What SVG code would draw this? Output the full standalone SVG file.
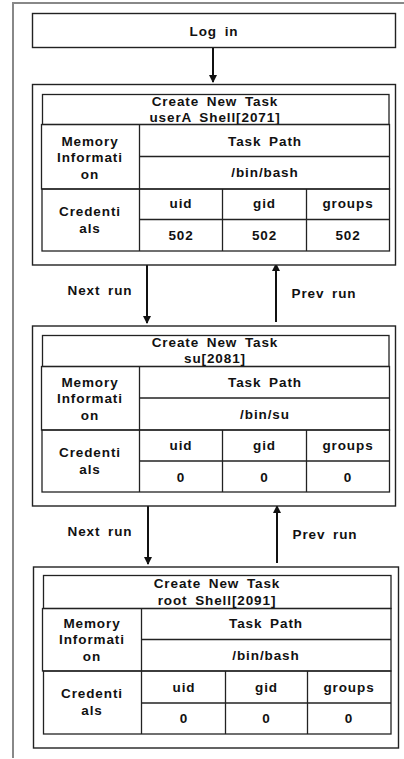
<svg xmlns="http://www.w3.org/2000/svg" width="404" height="759" viewBox="0 0 404 759">
<style>
text{font-family:"Liberation Sans",Arial,sans-serif;font-weight:bold;font-size:13.5px;letter-spacing:0.9px;word-spacing:3px;fill:#111;text-anchor:middle;dominant-baseline:central}
.box{fill:#fff;stroke:#222;stroke-width:1.4}
.cell{fill:none;stroke:#222;stroke-width:1.3}
.line{stroke:#222;stroke-width:1.3}
.arrow{stroke:#111;stroke-width:2;fill:none}
.frame{stroke:#888;stroke-width:2;fill:none}
</style>
<defs>
<marker id="ah" viewBox="0 0 8 8" refX="7" refY="4" markerWidth="8" markerHeight="8" markerUnits="userSpaceOnUse" orient="auto">
<path d="M0,0 L8,4 L0,8 Z" fill="#111"/>
</marker>
</defs>
<path class="frame" d="M13,758 V3 H404"/>
<g id="login">
<rect class="box" x="32.5" y="13.5" width="363" height="34"/>
<text x="214" y="31">Log in</text>
</g>
<g id="connectors">
<line class="arrow" x1="213" y1="48" x2="213" y2="82" marker-end="url(#ah)"/>
<line class="arrow" x1="147" y1="265" x2="147" y2="323" marker-end="url(#ah)"/>
<line class="arrow" x1="276" y1="322" x2="276" y2="264" marker-end="url(#ah)"/>
<line class="arrow" x1="148" y1="506" x2="148" y2="564" marker-end="url(#ah)"/>
<line class="arrow" x1="277" y1="563" x2="277" y2="506" marker-end="url(#ah)"/>
<text x="100" y="290">Next run</text>
<text x="324" y="293">Prev run</text>
<text x="100" y="531">Next run</text>
<text x="325" y="534">Prev run</text>
</g>
<g id="task1">
<rect class="box" x="32.5" y="84.5" width="363" height="180.5"/>
<rect class="cell" x="42.5" y="94.5" width="346.5" height="30"/>
<text x="215" y="101.5">Create New Task</text>
<text x="215" y="117.5">userA Shell[2071]</text>
<rect class="cell" x="41.5" y="124.5" width="348" height="64.5"/>
<line class="line" x1="139.5" y1="124.5" x2="139.5" y2="251"/>
<line class="line" x1="139.5" y1="156.5" x2="389.5" y2="156.5"/>
<rect class="cell" x="42" y="189" width="347.5" height="62"/>
<line class="line" x1="222.5" y1="189" x2="222.5" y2="251"/>
<line class="line" x1="306.5" y1="189" x2="306.5" y2="251"/>
<line class="line" x1="139.5" y1="219.5" x2="389.5" y2="219.5"/>
<text x="90" y="141.5">Memory</text>
<text x="90" y="157.7">Informati</text>
<text x="90" y="174">on</text>
<text x="265" y="141">Task Path</text>
<text x="265" y="172">/bin/bash</text>
<text x="90" y="211.5">Credenti</text>
<text x="90" y="228">als</text>
<text x="181" y="203.5">uid</text>
<text x="264.5" y="203.5">gid</text>
<text x="348" y="203.5">groups</text>
<text x="181" y="235.5">502</text>
<text x="264.5" y="235.5">502</text>
<text x="348" y="235.5">502</text>
</g>
<g id="task2">
<rect class="box" x="32.5" y="326" width="363" height="180"/>
<rect class="cell" x="42.5" y="335.5" width="346.5" height="31"/>
<text x="215" y="342">Create New Task</text>
<text x="215" y="358.5">su[2081]</text>
<rect class="cell" x="41.5" y="366.5" width="348" height="63.5"/>
<line class="line" x1="139.5" y1="366.5" x2="139.5" y2="492"/>
<line class="line" x1="139.5" y1="398" x2="389.5" y2="398"/>
<rect class="cell" x="42" y="430" width="347.5" height="62"/>
<line class="line" x1="222.5" y1="430" x2="222.5" y2="492"/>
<line class="line" x1="306.5" y1="430" x2="306.5" y2="492"/>
<line class="line" x1="139.5" y1="461" x2="389.5" y2="461"/>
<text x="90" y="382">Memory</text>
<text x="90" y="398.3">Informati</text>
<text x="90" y="415">on</text>
<text x="265" y="382">Task Path</text>
<text x="265" y="414">/bin/su</text>
<text x="90" y="452">Credenti</text>
<text x="90" y="469">als</text>
<text x="181" y="445.5">uid</text>
<text x="264.5" y="445.5">gid</text>
<text x="348" y="445.5">groups</text>
<text x="181" y="477">0</text>
<text x="264.5" y="477">0</text>
<text x="348" y="477">0</text>
</g>
<g id="task3">
<rect class="box" x="33.5" y="567" width="365" height="181"/>
<rect class="cell" x="43.5" y="575.5" width="347.5" height="33"/>
<text x="217" y="583">Create New Task</text>
<text x="217" y="600">root Shell[2091]</text>
<rect class="cell" x="42.5" y="608.5" width="348.5" height="62.5"/>
<line class="line" x1="141.5" y1="608.5" x2="141.5" y2="734"/>
<line class="line" x1="141.5" y1="639.5" x2="391" y2="639.5"/>
<rect class="cell" x="43.5" y="671" width="347.5" height="63"/>
<line class="line" x1="225.5" y1="671" x2="225.5" y2="734"/>
<line class="line" x1="307.5" y1="671" x2="307.5" y2="734"/>
<line class="line" x1="141.5" y1="703" x2="391" y2="703"/>
<text x="92" y="623">Memory</text>
<text x="92" y="639.5">Informati</text>
<text x="92" y="656">on</text>
<text x="266" y="623">Task Path</text>
<text x="266" y="655">/bin/bash</text>
<text x="92" y="693.5">Credenti</text>
<text x="92" y="710">als</text>
<text x="184" y="687">uid</text>
<text x="266.5" y="687">gid</text>
<text x="349" y="687">groups</text>
<text x="184" y="718">0</text>
<text x="266.5" y="718">0</text>
<text x="349" y="718">0</text>
</g>
</svg>
